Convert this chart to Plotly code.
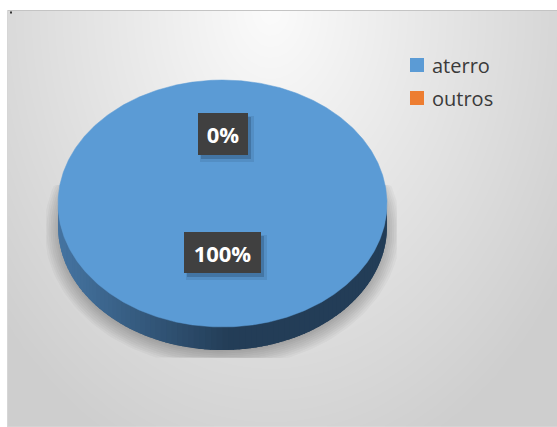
import numpy as np
import plotly.graph_objects as go

# ---- data ----
categories = ["aterro", "outros"]
values = [100, 0]
slice_colors = ["#5B9BD5", "#ED7D31"]

# ---- canvas / pie geometry (pixel space, y grows downward) ----
W, H = 557, 427
CX, CY = 222.5, 203.5          # centre of the pie top
RX, RY = 164.5, 123.5          # top ellipse radii
DEPTH = 23                     # thickness of the 3-D rim
AREA_X0, AREA_Y0 = 8, 10.5     # chart area corner

fig = go.Figure()

# ---- radial grey background of the chart area ----
gx = np.linspace(AREA_X0, W, 60)
gy = np.linspace(AREA_Y0, H, 46)
XX, YY = np.meshgrid(gx, gy)
dist = np.sqrt(((XX - 270) / 330.0) ** 2 + ((YY - 10) / 450.0) ** 2)
shade = np.clip(251 - 42 * dist, 206, 251)
fig.add_trace(go.Heatmap(
    x=gx, y=gy, z=shade, zmin=206, zmax=251, zsmooth="best",
    colorscale=[[0, "rgb(206,206,206)"], [1, "rgb(251,251,251)"]],
    showscale=False, hoverinfo="skip"))


def ellipse_pt(a_deg, dy=0.0, sx=1.0, sy=1.0, cx=CX, cy=CY):
    a = np.radians(a_deg)
    return cx + RX * sx * np.sin(a), cy + dy - RY * sy * np.cos(a)


# ---- soft drop shadow under the pie ----
for k in range(12):
    t = np.linspace(0, 360, 181)
    sx = (156 + 2.0 * k) / RX
    sy = (116 + 2.0 * k) / RY
    px, py = ellipse_pt(t, sx=sx, sy=sy, cy=CY + 26)
    px = np.clip(px, 46, 397)
    py = np.clip(py, 185, 358)
    fig.add_trace(go.Scatter(
        x=px, y=py, mode="lines", fill="toself",
        fillcolor="rgba(0,0,0,0.032)", line=dict(width=0),
        hoverinfo="skip", showlegend=False))

# ---- slices: angles from the values, clockwise from 12 o'clock ----
total = float(sum(values))
starts, spans = [], []
acc = 0.0
for v in values:
    span = 360.0 * v / total
    starts.append(acc)
    spans.append(span)
    acc += span


def rim_color(x):
    t = np.clip((x - 58) / (225 - 58), 0, 1)
    c0 = np.array([69, 116, 161])
    c1 = np.array([35, 61, 87])
    c = c0 + (c1 - c0) * t
    return "rgb(%d,%d,%d)" % tuple(int(round(v)) for v in c)


# rim (front half of each slice, from 90 to 270 degrees);
# strips overlap their neighbour so no seams show between them
for s, sp in zip(starts, spans):
    if sp <= 0:
        continue
    a0, a1 = max(s, 90.0), min(s + sp, 270.0)
    if a1 <= a0:
        continue
    n = 90
    edges = np.linspace(a0, a1, n + 1)
    step = edges[1] - edges[0]
    for e0 in edges[:-1]:
        e1 = min(e0 + 2.2 * step, a1)
        tt = np.linspace(e0, e1, 4)
        ux, uy = ellipse_pt(tt)
        col = rim_color(ux.mean())
        fig.add_trace(go.Scatter(
            x=np.concatenate([ux, ux[::-1], ux[:1]]),
            y=np.concatenate([uy - 0.5, uy[::-1] + DEPTH, uy[:1] - 0.5]),
            mode="lines", fill="toself", fillcolor=col,
            line=dict(width=0), hoverinfo="skip", showlegend=False))

# top faces
for s, sp, col, name in zip(starts, spans, slice_colors, categories):
    if sp <= 0:
        continue
    t = np.linspace(s, s + sp, max(int(sp * 2), 2) + 1)
    px, py = ellipse_pt(t)
    if sp < 360:
        px = np.concatenate([[CX], px, [CX]])
        py = np.concatenate([[CY], py, [CY]])
    fig.add_trace(go.Scatter(
        x=px, y=py, mode="lines", fill="toself", fillcolor=col,
        line=dict(width=0.5, color=col), name=name,
        hoverinfo="skip", showlegend=False))

# ---- data labels (dark boxes with white bold text) ----
label_boxes = {"0%": (50, 42), "100%": (77, 41)}
for s, sp, v in zip(starts, spans, values):
    mid = s + sp / 2.0
    lx, ly = ellipse_pt(mid, sx=0.48, sy=0.48)
    ly -= 10
    txt = "%d%%" % round(100.0 * v / total)
    bw, bh = label_boxes.get(txt, (60, 41))
    for dx, dy, grow, alpha in [(4, -5, 4, 0.10), (3, -4, 0, 0.22)]:
        fig.add_annotation(
            x=lx, y=ly, xref="x", yref="y", text="", showarrow=False,
            width=bw + grow, height=bh + grow, xshift=dx, yshift=dy,
            bgcolor="rgba(15,30,50,%.2f)" % alpha, borderwidth=0, borderpad=0)
    fig.add_annotation(
        x=lx, y=ly, xref="x", yref="y", text=txt, showarrow=False,
        width=bw, height=bh, bgcolor="#404040", borderwidth=0, borderpad=0,
        font=dict(family="Open Sans", size=22, color="white", weight="bold"))

# ---- legend ----
legend_rows_y = [65, 98]
fig.add_shape(type="rect", x0=392, x1=510, y0=48, y1=115, xref="x", yref="y",
              fillcolor="rgba(246,246,246,0.55)", line=dict(width=0), layer="below")
fig.add_trace(go.Scatter(
    x=[417] * len(categories), y=legend_rows_y, mode="markers",
    marker=dict(symbol="square", size=14, color=slice_colors, line=dict(width=0)),
    hoverinfo="skip", showlegend=False))
for name, yy in zip(categories, legend_rows_y):
    fig.add_annotation(
        x=430, y=yy, xref="x", yref="y", text=name, showarrow=False,
        xanchor="left", yanchor="middle",
        font=dict(family="Open Sans", size=20, color="#3a3a3a"))

# ---- white margin strips and chart-area border ----
fig.add_shape(type="rect", x0=0, x1=AREA_X0 - 0.5, y0=0, y1=H, xref="x", yref="y",
              fillcolor="white", line=dict(width=0), layer="above")
fig.add_shape(type="rect", x0=0, x1=W, y0=0, y1=AREA_Y0 - 0.5, xref="x", yref="y",
              fillcolor="white", line=dict(width=0), layer="above")
fig.add_shape(type="line", x0=AREA_X0 - 0.5, x1=W, y0=AREA_Y0, y1=AREA_Y0,
              xref="x", yref="y", line=dict(color="#c4c4c4", width=1), layer="above")
fig.add_shape(type="line", x0=AREA_X0 - 0.5, x1=AREA_X0 - 0.5, y0=AREA_Y0, y1=H,
              xref="x", yref="y", line=dict(color="#d6d6d6", width=1), layer="above")
fig.add_shape(type="rect", x0=10, x1=12, y0=11.5, y1=13.5, xref="x", yref="y",
              fillcolor="#333333", line=dict(width=0), layer="above")

fig.update_layout(
    width=W, height=H, margin=dict(l=0, r=0, t=0, b=0),
    paper_bgcolor="white", plot_bgcolor="white", showlegend=False,
    xaxis=dict(range=[0, W], visible=False, fixedrange=True),
    yaxis=dict(range=[H, 0], visible=False, fixedrange=True),
)

fig.write_html("out.html")
